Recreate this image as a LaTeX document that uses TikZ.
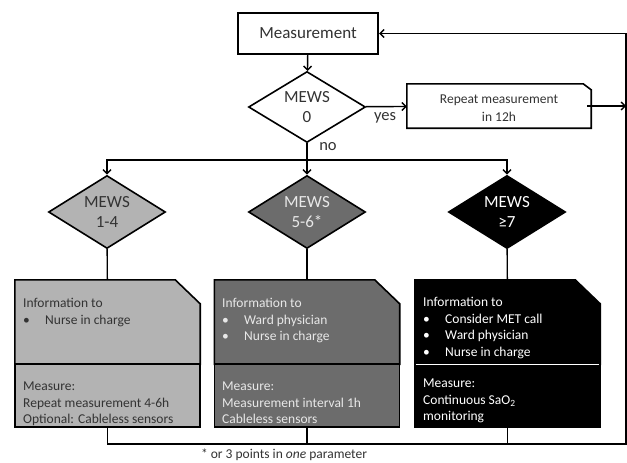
\documentclass[tikz,border=0pt]{standalone}
\usepackage{fontspec}
\setmainfont{Carlito}
\usetikzlibrary{arrows.meta, positioning, shapes.geometric}
\definecolor{lightgrey}{HTML}{B3B3B3}
\definecolor{midgrey}{HTML}{6C6C6C}
\definecolor{darktext}{HTML}{333333}
\definecolor{paletext}{HTML}{E8E8E8}
\newcommand{\itm}{\makebox[22pt][l]{\textbullet}}

\begin{document}
\begin{tikzpicture}[x=1pt, y=-1pt,
  mews/.style={diamond, draw=black, line width=1.6pt, shape aspect=1.6,
               inner sep=0pt, minimum width=117pt, minimum height=73pt,
               align=center, font=\fontsize{17}{20.5}\selectfont},
  slot/.style={rectangle, inner sep=0pt, minimum width=185pt, minimum height=84pt},
  snip/.style={draw=black, line width=1.6pt, line join=miter},
  actbox/.style={rectangle, draw=black, line width=1.6pt, inner sep=0pt,
                 minimum width=185pt, minimum height=63pt},
  boxtext/.style={anchor=north west, inner sep=0pt, align=left,
                  font=\fontsize{13.5}{16.5}\selectfont},
  link/.style={line width=1.4pt},
  arrow/.style={-{Straight Barb[length=4pt, width=8pt]}, line width=1.4pt}
]
  \path[fill=white, use as bounding box] (0,0) rectangle (627,463);

  \node[draw=black, line width=2.4pt, minimum width=140pt, minimum height=41pt,
        inner sep=0pt, text=darktext, font=\fontsize{17}{20}\selectfont]
        (meas) at (308,33.5) {Measurement};
  \node[mews, fill=white, text=darktext, minimum height=71pt] (d0) at (307,107) {MEWS\\0};
  \node[rectangle, inner sep=0pt, minimum width=184pt, minimum height=44pt] (rep) at (499,106) {};
  \draw[snip, fill=white] (rep.south west) -- (rep.north west) -- ([xshift=-8pt]rep.north east)
        -- ([yshift=-6pt]rep.north east) -- (rep.south east) -- cycle;
  \node[align=center, text=darktext, font=\fontsize{13.5}{18}\selectfont]
        (reptxt) at (499,108) {Repeat measurement\\in 12h};
  \node[text=darktext, font=\fontsize{16.5}{18}\selectfont] (yes) at (385,118) {yes};
  \node[text=darktext, font=\fontsize{16.5}{18}\selectfont] (no) at (328,147) {no};

  \node[mews, fill=lightgrey, text=darktext] (d1) at (107,212) {MEWS\\1-4};
  \node[mews, fill=midgrey, text=paletext]   (d2) at (307,212) {MEWS\\5-6*};
  \node[mews, fill=black, text=white]        (d3) at (507,212) {MEWS\\≥7};

  \node[slot] (inf1) at (107.5,322) {};
  \node[slot] (inf2) at (307,322)   {};
  \node[slot] (inf3) at (507.5,322) {};
  \foreach \n/\c in {inf1/lightgrey, inf2/midgrey, inf3/black}
    \draw[snip, fill=\c] (\n.south west) -- (\n.north west) -- ([xshift=-25pt]\n.north east)
          -- ([yshift=-24pt]\n.north east) -- (\n.south east) -- cycle;
  \node[actbox, fill=lightgrey]  (act1) at (107.5,395.5) {};
  \node[actbox, fill=midgrey]    (act2) at (307,395.5)   {};
  \node[actbox, fill=black]      (act3) at (507.5,395.5) {};
  \draw[white, line width=1.2pt] ([xshift=1pt]inf3.south west) -- ([xshift=-1pt]inf3.south east);

  \node[boxtext, text=darktext] (inftxt1) at (23,298)
        {Information to\\\itm Nurse in charge};
  \node[boxtext, text=darktext] (acttxt1) at (23,382)
        {Measure:\\Repeat measurement 4-6h\\Optional: Cableless sensors};
  \node[boxtext, text=paletext] (inftxt2) at (222,298)
        {Information to\\\itm Ward physician\\\itm Nurse in charge};
  \node[boxtext, text=paletext] (acttxt2) at (222,382)
        {Measure:\\Measurement interval 1h\\Cableless sensors};
  \node[boxtext, text=white] (inftxt3) at (423,297)
        {Information to\\\itm Consider MET call\\\itm Ward physician\\\itm Nurse in charge};
  \node[boxtext, text=white] (acttxt3) at (423,379)
        {Measure:\\Continuous SaO\textsubscript{2}\\monitoring};

  \node[text=darktext, font=\fontsize{13.5}{16}\selectfont] (note) at (284,455)
        {* or 3 points in \emph{one} parameter};

  \coordinate (split)  at (307,160);
  \coordinate (loopbr) at (626,444);
  \coordinate (looptr) at (626,33.5);

  \draw[arrow] (meas) -- (d0);
  \draw[arrow] (d0) -- (rep);
  \draw[arrow] ([xshift=-4pt]rep.east) -- (rep.east -| looptr);
  \draw[link]  (d0) -- (split);
  \draw[arrow] (split) -| (d1.north);
  \draw[arrow] (split) -- (d2.north);
  \draw[arrow] (split) -| (d3.north);
  \draw[link]  (d1) -- (inf1);
  \draw[link]  (d2) -- (inf2);
  \draw[link]  (d3) -- (inf3);
  \draw[arrow] (act1) |- (loopbr) -- (looptr) -- (meas);
  \draw[link]  (act2) -- (act2 |- loopbr);
  \draw[link]  (act3) -- (act3 |- loopbr);
\end{tikzpicture}
\end{document}
